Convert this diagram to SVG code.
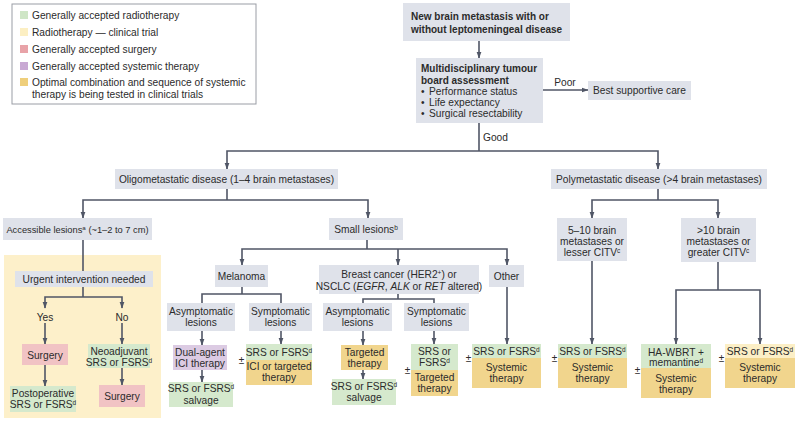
<svg xmlns="http://www.w3.org/2000/svg" width="800" height="423" viewBox="0 0 800 423">
<defs>
<style>
text{font-family:"Liberation Sans",Arial,sans-serif;font-size:10.2px;fill:#2b2b2b}
.t{text-anchor:middle}
.b{font-weight:bold;font-size:10px}
.sm{font-size:9.3px}
.g{fill:#dfe2ea}
.gr{fill:#d5e9cd}
.ly{fill:#fcefc6}
.pk{fill:#f1c3c4}
.pu{fill:#dccbe3}
.or{fill:#f1d58d}
.c path{fill:none;stroke:#505666;stroke-width:1.6}
.a{marker-end:url(#arr)}
.aa{marker-end:url(#arr);marker-start:url(#arr)}
.pm{text-anchor:middle;font-size:10px}
.it{font-style:italic}
</style>
<marker id="arr" markerUnits="userSpaceOnUse" markerWidth="7" markerHeight="7" viewBox="0 0 10 10" refX="9" refY="5" orient="auto-start-reverse"><path d="M0,1.5 L10,5 L0,8.5 z" fill="#505666"/></marker>
</defs>
<rect width="800" height="423" fill="#ffffff"/>

<g id="legend">
<rect x="12" y="4" width="244" height="100" fill="#fff" stroke="#9a9da5" stroke-width="1"/>
<rect x="20" y="11" width="8" height="8" fill="#cfe6c6"/>
<text x="32" y="18.5">Generally accepted radiotherapy</text>
<rect x="20" y="28" width="8" height="8" fill="#fcefc3"/>
<text x="32" y="35.5">Radiotherapy — clinical trial</text>
<rect x="20" y="45" width="8" height="8" fill="#e8a3a8"/>
<text x="32" y="52.5">Generally accepted surgery</text>
<rect x="20" y="62" width="8" height="8" fill="#c9a9d3"/>
<text x="32" y="69.5">Generally accepted systemic therapy</text>
<rect x="20" y="78" width="8" height="8" fill="#efcf7c"/>
<text x="32" y="85.5">Optimal combination and sequence of systemic</text>
<text x="32" y="97.5">therapy is being tested in clinical trials</text>
</g>

<g id="panel-urgent">
<rect x="4" y="255" width="157" height="163" fill="#fdf0ca"/>
</g>

<g class="c" id="connectors">
<path class="a" d="M479,41 V58"/>
<path class="a" d="M543,90 H588"/>
<path d="M479,123 V151"/>
<path class="aa" d="M227,169 V151 H658 V169"/>
<path d="M227,189 V200"/>
<path class="aa" d="M83,218 V200 H368 V218"/>
<path d="M83,240 V271"/>
<path d="M83,287 V297"/>
<path class="aa" d="M45,308 V297 H122 V308"/>
<path class="a" d="M45,323 V344"/>
<path class="a" d="M122,323 V344"/>
<path class="a" d="M45,365 V386"/>
<path class="a" d="M122,368 V385"/>
<path d="M367,240 V249"/>
<path class="aa" d="M242,265 V249 H507 V265"/>
<path class="a" d="M398,249 V265"/>
<path d="M242,287 V294"/>
<path d="M202,303 V294 H281 V303"/>
<path d="M398,294 V299"/>
<path d="M363,303 V299 H434 V303"/>
<path class="a" d="M202,331 V345"/>
<path class="a" d="M202,370 V382"/>
<path class="a" d="M281,331 V344"/>
<path class="a" d="M363,331 V345"/>
<path class="a" d="M363,370 V379"/>
<path class="a" d="M434,331 V344"/>
<path class="a" d="M507,287 V344"/>
<path d="M658,189 V200"/>
<path class="aa" d="M592,218 V200 H718 V218"/>
<path class="a" d="M592,261 V344"/>
<path d="M718,262 V290"/>
<path class="aa" d="M676,344 V290 H760 V344"/>
</g>

<g id="n-start">
<rect class="g" x="403" y="3" width="167" height="38"/>
<text class="b" x="411" y="19.5">New brain metastasis with or</text>
<text class="b" x="411" y="33">without leptomeningeal disease</text>
</g>

<g id="n-mdt">
<rect class="g" x="416" y="58" width="127" height="65"/>
<text class="b" x="421" y="71.5">Multidisciplinary tumour</text>
<text class="b" x="421" y="83.5">board assessment</text>
<text x="421" y="94.5">•</text><text x="429" y="94.5">Performance status</text>
<text x="421" y="105.5">•</text><text x="429" y="105.5">Life expectancy</text>
<text x="421" y="117">•</text><text x="429" y="117">Surgical resectability</text>
</g>

<g id="lbl-poor"><text class="t" x="565" y="86">Poor</text></g>
<g id="n-bsc">
<rect class="g" x="588" y="81" width="103" height="19"/>
<text class="t" x="639.5" y="94">Best supportive care</text>
</g>
<g id="lbl-good"><text x="483" y="140.5">Good</text></g>

<g id="n-oligo">
<rect class="g" x="115" y="169" width="223" height="20"/>
<text class="t" x="226.5" y="182.5">Oligometastatic disease (1–4 brain metastases)</text>
</g>
<g id="n-poly">
<rect class="g" x="551" y="169" width="216" height="20"/>
<text class="t" x="659" y="182.5">Polymetastatic disease (&gt;4 brain metastases)</text>
</g>

<g id="n-access">
<rect class="g" x="3" y="218" width="149" height="22"/>
<text class="t sm" x="77.5" y="232.5">Accessible lesions<tspan font-size="6.2" baseline-shift="super">a</tspan> (~1–2 to 7 cm)</text>
</g>
<g id="n-small">
<rect class="g" x="329" y="218" width="74" height="22"/>
<text class="t" x="366" y="232.5">Small lesions<tspan font-size="6.5" baseline-shift="super">b</tspan></text>
</g>

<g id="n-urgent">
<rect class="g" x="15" y="271" width="138" height="16"/>
<text class="t" x="84" y="282.5">Urgent intervention needed</text>
</g>
<g id="lbl-yes"><text class="t" x="45" y="320.5">Yes</text></g>
<g id="lbl-no"><text class="t" x="122" y="320.5">No</text></g>
<g id="n-surg1">
<rect class="pk" x="22" y="344" width="46" height="21"/>
<text class="t" x="45" y="358.5">Surgery</text>
</g>
<g id="n-postop">
<rect class="gr" x="10" y="386" width="66" height="26"/>
<text class="t" x="43" y="396.5">Postoperative</text>
<text class="t" x="43" y="408">SRS or FSRS<tspan font-size="6.5" baseline-shift="super">d</tspan></text>
</g>
<g id="n-neo">
<rect class="gr" x="88" y="344" width="62" height="24"/>
<text class="t" x="119" y="354.5">Neoadjuvant</text>
<text class="t" x="119" y="365.5">SRS or FSRS<tspan font-size="6.5" baseline-shift="super">d</tspan></text>
</g>
<g id="n-surg2">
<rect class="pk" x="99" y="385" width="46" height="22"/>
<text class="t" x="122" y="400">Surgery</text>
</g>

<g id="n-melanoma">
<rect class="g" x="215" y="265" width="53" height="22"/>
<text class="t" x="241.5" y="279.5">Melanoma</text>
</g>
<g id="n-breast">
<rect class="g" x="319" y="265" width="160" height="29"/>
<text class="t" x="399" y="277.5">Breast cancer (HER2<tspan font-size="6.5" baseline-shift="super">+</tspan>) or</text>
<text class="t" x="399" y="289.5">NSCLC (<tspan class="it">EGFR</tspan>, <tspan class="it">ALK</tspan> or <tspan class="it">RET</tspan> altered)</text>
</g>
<g id="n-other">
<rect class="g" x="489" y="265" width="35" height="22"/>
<text class="t" x="506.5" y="279.5">Other</text>
</g>

<g id="n-mel-asym">
<rect class="g" x="167" y="303" width="68" height="28"/>
<text class="t" x="201" y="314.5">Asymptomatic</text>
<text class="t" x="201" y="326">lesions</text>
</g>
<g id="n-mel-sym">
<rect class="g" x="249" y="303" width="63" height="28"/>
<text class="t" x="280.5" y="314.5">Symptomatic</text>
<text class="t" x="280.5" y="326">lesions</text>
</g>
<g id="n-dual">
<rect class="pu" x="173" y="345" width="54" height="25"/>
<text class="t" x="200" y="355.5">Dual-agent</text>
<text class="t" x="200" y="366.5">ICI therapy</text>
</g>
<g id="n-mel-salv">
<rect class="gr" x="169" y="382" width="64" height="25"/>
<text class="t" x="201" y="392">SRS or FSRS<tspan font-size="6.5" baseline-shift="super">d</tspan></text>
<text class="t" x="201" y="403.5">salvage</text>
</g>
<g id="n-mel-sym-tx">
<rect class="gr" x="246" y="344" width="66" height="16"/>
<rect class="or" x="246" y="360" width="66" height="25"/>
<text class="t" x="279" y="355.5">SRS or FSRS<tspan font-size="6.5" baseline-shift="super">d</tspan></text>
<text class="t" x="279" y="370">ICI or targeted</text>
<text class="t" x="279" y="381">therapy</text>
<text class="pm" x="241.5" y="364">±</text>
</g>

<g id="n-br-asym">
<rect class="g" x="323" y="303" width="69" height="28"/>
<text class="t" x="357.5" y="314.5">Asymptomatic</text>
<text class="t" x="357.5" y="326">lesions</text>
</g>
<g id="n-br-sym">
<rect class="g" x="404" y="303" width="65" height="28"/>
<text class="t" x="436.5" y="314.5">Symptomatic</text>
<text class="t" x="436.5" y="326">lesions</text>
</g>
<g id="n-targeted">
<rect class="or" x="341" y="345" width="47" height="25"/>
<text class="t" x="364.5" y="355.5">Targeted</text>
<text class="t" x="364.5" y="366.5">therapy</text>
</g>
<g id="n-br-salv">
<rect class="gr" x="332" y="379" width="64" height="26"/>
<text class="t" x="364" y="389.5">SRS or FSRS<tspan font-size="6.5" baseline-shift="super">d</tspan></text>
<text class="t" x="364" y="401">salvage</text>
</g>
<g id="n-br-sym-tx">
<rect class="gr" x="411" y="344" width="47" height="26"/>
<rect class="or" x="411" y="370" width="47" height="26"/>
<text class="t" x="434.5" y="355">SRS or</text>
<text class="t" x="434.5" y="366">FSRS<tspan font-size="6.5" baseline-shift="super">d</tspan></text>
<text class="t" x="434.5" y="380.5">Targeted</text>
<text class="t" x="434.5" y="391.5">therapy</text>
<text class="pm" x="407.5" y="374">±</text>
</g>

<g id="n-other-tx">
<rect class="gr" x="472" y="344" width="69" height="14"/>
<rect class="or" x="472" y="358" width="69" height="30"/>
<text class="t" x="506.5" y="355">SRS or FSRS<tspan font-size="6.5" baseline-shift="super">d</tspan></text>
<text class="t" x="506.5" y="370.5">Systemic</text>
<text class="t" x="506.5" y="381.5">therapy</text>
<text class="pm" x="468.5" y="362">±</text>
</g>

<g id="n-5-10">
<rect class="g" x="557" y="218" width="70" height="43"/>
<text class="t" x="592" y="233.5">5–10 brain</text>
<text class="t" x="592" y="244.5">metastases or</text>
<text class="t" x="592" y="255.5">lesser CITV<tspan font-size="6.5" baseline-shift="super">c</tspan></text>
</g>
<g id="n-5-10-tx">
<rect class="gr" x="558" y="344" width="69" height="14"/>
<rect class="or" x="558" y="358" width="69" height="30"/>
<text class="t" x="592.5" y="355">SRS or FSRS<tspan font-size="6.5" baseline-shift="super">d</tspan></text>
<text class="t" x="592.5" y="370.5">Systemic</text>
<text class="t" x="592.5" y="381.5">therapy</text>
<text class="pm" x="554.5" y="362">±</text>
</g>

<g id="n-gt10">
<rect class="g" x="681" y="218" width="75" height="44"/>
<text class="t" x="718.5" y="233.5">&gt;10 brain</text>
<text class="t" x="718.5" y="244.5">metastases or</text>
<text class="t" x="718.5" y="255.5">greater CITV<tspan font-size="6.5" baseline-shift="super">c</tspan></text>
</g>
<g id="n-hawbrt">
<rect class="gr" x="641" y="344" width="70" height="24"/>
<rect class="or" x="641" y="368" width="70" height="30"/>
<text class="t" x="676" y="355.5">HA-WBRT +</text>
<text class="t" x="676" y="366">memantine<tspan font-size="6.5" baseline-shift="super">d</tspan></text>
<text class="t" x="676" y="381.5">Systemic</text>
<text class="t" x="676" y="392.5">therapy</text>
<text class="pm" x="637.5" y="374">±</text>
</g>
<g id="n-gt10-srs">
<rect class="ly" x="725" y="344" width="70" height="14"/>
<rect class="or" x="725" y="358" width="70" height="30"/>
<text class="t" x="760" y="355">SRS or FSRS<tspan font-size="6.5" baseline-shift="super">d</tspan></text>
<text class="t" x="760" y="370.5">Systemic</text>
<text class="t" x="760" y="381.5">therapy</text>
<text class="pm" x="721.5" y="362">±</text>
</g>
</svg>
